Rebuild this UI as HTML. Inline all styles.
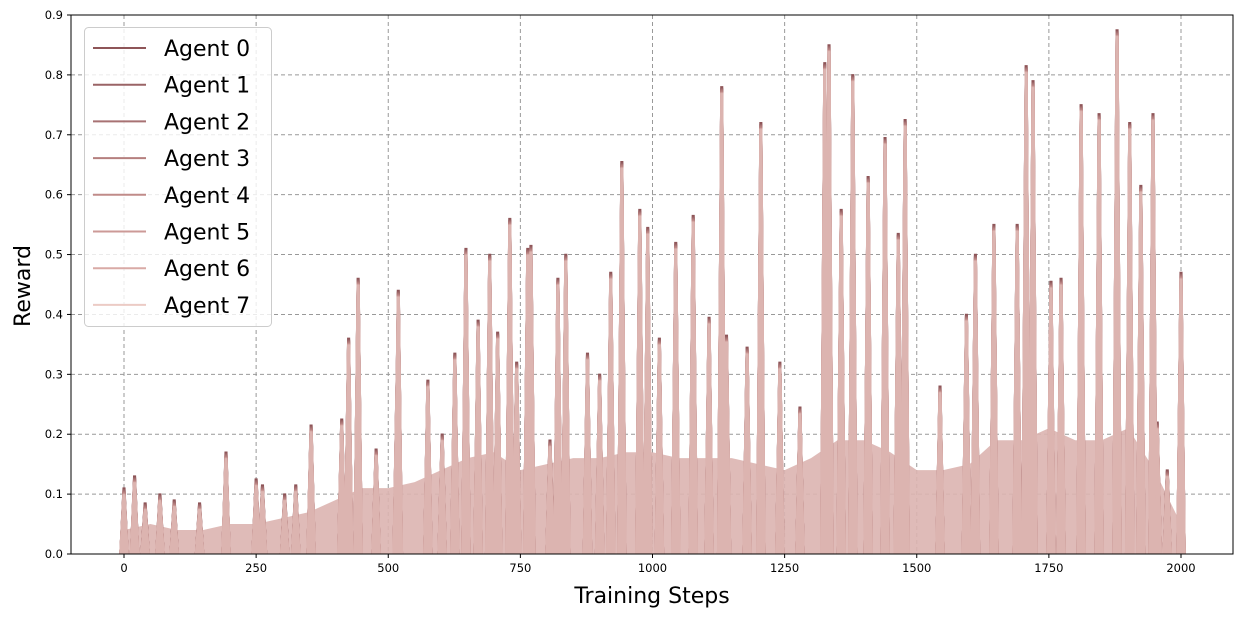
<!DOCTYPE html>
<html><head><meta charset="utf-8"><style>
body{margin:0;background:#fff;}
svg{display:block;font-family:"DejaVu Sans","Liberation Sans",sans-serif;}
</style></head><body>
<svg id="chart" width="1243" height="617">
<g id="grid"></g>
<g id="area"></g>
<g id="series"></g>
<rect x="71" y="15" width="1162" height="539" fill="none" stroke="#000" stroke-width="1"/>
<g id="ticks"></g>
<text x="652" y="603" font-size="22" text-anchor="middle">Training Steps</text>
<text transform="translate(30,286) rotate(-90)" font-size="22" text-anchor="middle">Reward</text>
<g id="legend"></g>
</svg>
<script>
const xTicks=[0,250,500,750,1000,1250,1500,1750,2000];
const yTicks=[0,0.1,0.2,0.3,0.4,0.5,0.6,0.7,0.8,0.9];
const agents=["Agent 0","Agent 1","Agent 2","Agent 3","Agent 4","Agent 5","Agent 6","Agent 7"];
const colors=["#8e5558","#9a6466","#a87273","#b57f7e","#c08b89","#cc9a97","#d9aaa6","#eccbc5"];
const spikeColors=["#8e5558","#9a6466","#a87273","#b57f7e","#c08b89","#cc9a97","#d6aca8","#dcb4b0"];
const agentOffset=[0.012,0.009,0.007,0.005,0.003,0.002,0.001,0];
const peakSteps=[0,20,40,68,95,143,193,250,262,304,325,354,412,425,443,477,517,519,575,602,626,647,670,692,707,730,743,764,770,806,821,836,877,900,921,942,976,991,1013,1044,1077,1107,1131,1140,1179,1205,1241,1279,1326,1334,1357,1379,1408,1440,1465,1478,1544,1594,1611,1646,1690,1707,1720,1754,1773,1811,1845,1879,1903,1924,1947,1955,1974,2000];
const peakVals=[0.11,0.13,0.085,0.1,0.09,0.085,0.17,0.125,0.115,0.1,0.115,0.215,0.225,0.36,0.46,0.175,0.31,0.44,0.29,0.2,0.335,0.51,0.39,0.5,0.37,0.56,0.32,0.51,0.515,0.19,0.46,0.5,0.335,0.3,0.47,0.655,0.575,0.545,0.36,0.52,0.565,0.395,0.78,0.365,0.345,0.72,0.32,0.245,0.82,0.85,0.575,0.8,0.63,0.695,0.535,0.725,0.28,0.4,0.5,0.55,0.55,0.815,0.79,0.455,0.46,0.75,0.735,0.875,0.72,0.615,0.735,0.22,0.14,0.47];
const noiseSteps=[0,50,100,150,200,250,300,350,400,450,500,550,600,650,700,750,800,850,900,950,1000,1050,1100,1150,1200,1250,1300,1350,1400,1450,1500,1550,1600,1650,1700,1750,1800,1850,1900,1950,2000];
const noiseVals=[0.04,0.05,0.04,0.04,0.05,0.05,0.06,0.07,0.09,0.11,0.11,0.12,0.14,0.16,0.17,0.14,0.15,0.16,0.16,0.17,0.17,0.16,0.16,0.16,0.15,0.14,0.16,0.19,0.19,0.17,0.14,0.14,0.15,0.19,0.19,0.21,0.19,0.19,0.21,0.14,0.05];
const X=s=>124+s*(1057/2000);
const Y=v=>554-v*(539/0.9);
const NS="http://www.w3.org/2000/svg";
function mk(tag,attrs,parent){const e=document.createElementNS(NS,tag);for(const k in attrs)e.setAttribute(k,attrs[k]);parent.appendChild(e);return e;}
const grid=document.getElementById('grid'),ticks=document.getElementById('ticks');
xTicks.forEach(t=>{
 const g=mk('line',{x1:X(t),x2:X(t),y1:15,y2:554,stroke:'#999','stroke-dasharray':'4,3','stroke-width':1},grid);
 
 
 mk('line',{x1:X(t),x2:X(t),y1:554,y2:558,stroke:'#000'},ticks);
 const tx=mk('text',{x:X(t),y:572,'font-size':11.5,'text-anchor':'middle'},ticks);tx.textContent=t;
 
 
});
yTicks.forEach(t=>{
 const g=mk('line',{x1:71,x2:1233,y1:Y(t),y2:Y(t),stroke:'#999','stroke-dasharray':'4,3','stroke-width':1},grid);
 
 
 mk('line',{x1:67,x2:71,y1:Y(t),y2:Y(t),stroke:'#000'},ticks);
 const tx=mk('text',{x:63,y:Y(t)+4,'font-size':11.5,'text-anchor':'end'},ticks);tx.textContent=t.toFixed(1);
 
 
});
let d='M'+X(noiseSteps[0])+','+Y(0);
noiseSteps.forEach((s,i)=>{d+=' L'+X(s)+','+Y(noiseVals[i]);});
d+=' L'+X(noiseSteps[noiseSteps.length-1])+','+Y(0)+' Z';
const ar=mk('path',{d:d,fill:'#dcb4b0',opacity:0.9},document.getElementById('area'));


const ser=document.getElementById('series');
agents.forEach((a,ai)=>{
 let p='';
 peakSteps.forEach((s,i)=>{
  const v=Math.max(0,peakVals[i]-0.012+agentOffset[ai]);
  p+=' M'+(X(s)-4)+','+Y(0)+' L'+(X(s)-0.8)+','+Y(v)+' L'+(X(s)+0.8)+','+Y(v)+' L'+(X(s)+4)+','+Y(0);
 });
 const e=mk('path',{d:p,fill:spikeColors[ai],stroke:spikeColors[ai],'stroke-width':1.5},ser);
 
 
});
const lg=document.getElementById('legend');
const box=mk('rect',{x:84.5,y:27.5,width:187,height:299,rx:4,fill:'#fff','fill-opacity':0.8,stroke:'#ccc'},lg);


agents.forEach((a,i)=>{
 const y=48+i*36.7;
 const l=mk('line',{x1:93,x2:146,y1:y,y2:y,stroke:colors[i],'stroke-width':2},lg);
 
 
 const t=mk('text',{x:164,y:y+8,'font-size':22},lg);t.textContent=a;
 
 
});
</script>
</body></html>
